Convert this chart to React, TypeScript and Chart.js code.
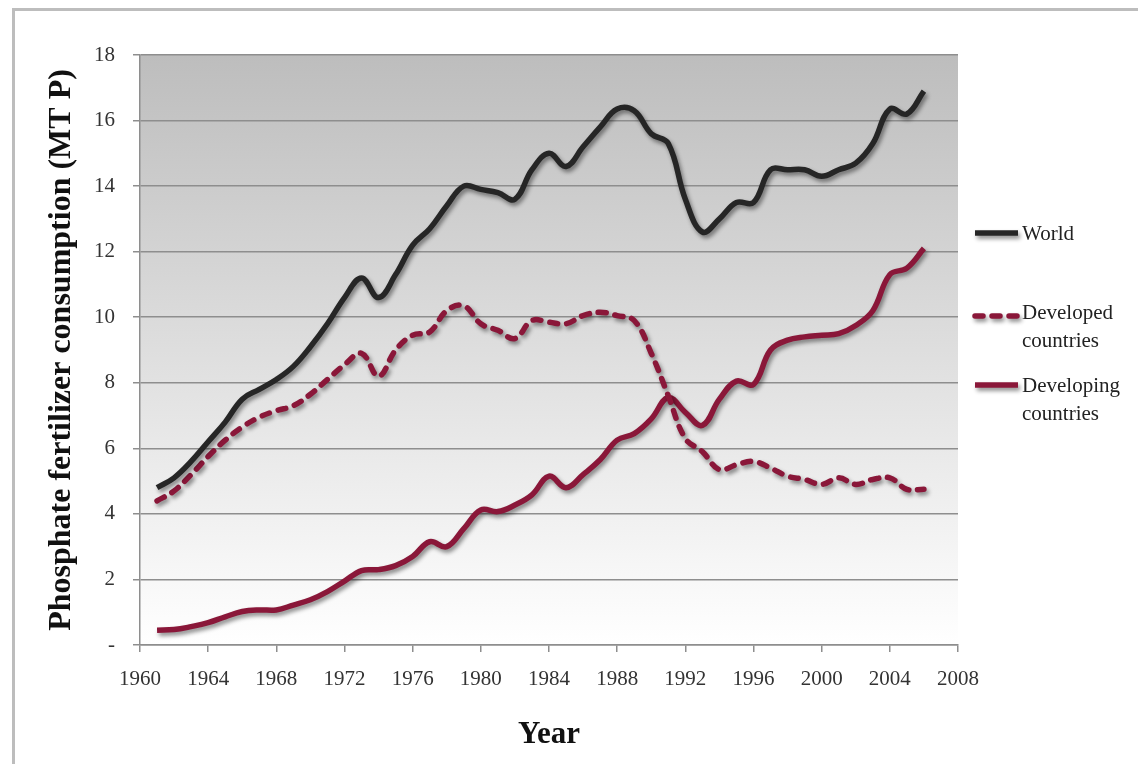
import React, { useEffect, useRef } from 'react';
import Chart from 'chart.js/auto';

const years = [
  1961, 1962, 1963, 1964, 1965, 1966, 1967, 1968, 1969, 1970,
  1971, 1972, 1973, 1974, 1975, 1976, 1977, 1978, 1979, 1980,
  1981, 1982, 1983, 1984, 1985, 1986, 1987, 1988, 1989, 1990,
  1991, 1992, 1993, 1994, 1995, 1996, 1997, 1998, 1999, 2000,
  2001, 2002, 2003, 2004, 2005, 2006,
];

const world = [
  4.8, 5.1, 5.6, 6.2, 6.8, 7.5, 7.8, 8.1, 8.5, 9.1,
  9.8, 10.6, 11.2, 10.6, 11.3, 12.2, 12.7, 13.4, 14.0, 13.9,
  13.8, 13.6, 14.5, 15.0, 14.6, 15.2, 15.8, 16.35, 16.3, 15.6,
  15.3, 13.6, 12.6, 13.0, 13.5, 13.5, 14.5, 14.5, 14.5, 14.3,
  14.5, 14.7, 15.3, 16.35, 16.2, 16.9,
];

const developed = [
  4.4, 4.7, 5.2, 5.75, 6.25, 6.65, 6.95, 7.15, 7.3, 7.65,
  8.1, 8.55, 8.9, 8.2, 9.0, 9.45, 9.55, 10.2, 10.35, 9.8,
  9.6, 9.35, 9.9, 9.85, 9.8, 10.05, 10.15, 10.05, 9.9, 8.9,
  7.6, 6.3, 5.9, 5.35, 5.5, 5.6, 5.4, 5.15, 5.05, 4.9,
  5.1, 4.9, 5.05, 5.1, 4.75, 4.75,
];

const developing = [
  0.45, 0.47, 0.56, 0.68, 0.86, 1.02, 1.07, 1.07, 1.22, 1.38,
  1.63, 1.95, 2.27, 2.3, 2.42, 2.7, 3.15, 3.0, 3.55, 4.12,
  4.07, 4.27, 4.58, 5.15, 4.8, 5.2, 5.65, 6.25, 6.45, 6.9,
  7.55, 7.1, 6.7, 7.5, 8.05, 7.95, 9.0, 9.3, 9.4, 9.45,
  9.5, 9.75, 10.2, 11.3, 11.5, 12.1,
];

const seriesNames = ['World', 'Developed countries', 'Developing countries'];
const legendLines = [['World'], ['Developed', 'countries'], ['Developing', 'countries']];

const xTicks = [1960, 1964, 1968, 1972, 1976, 1980, 1984, 1988, 1992, 1996, 2000, 2004, 2008];
const yTicks = [0, 2, 4, 6, 8, 10, 12, 14, 16, 18];
const yTickLabels = ['-', '2', '4', '6', '8', '10', '12', '14', '16', '18'];

const xTitle = 'Year';
const yTitle = 'Phosphate fertilizer consumption (MT P)';

const SERIF = '"Liberation Serif", "Times New Roman", serif';
const GRID = '#8e8e8e';

export default function App() {
  const ref = useRef<HTMLCanvasElement>(null);

  useEffect(() => {
    document.body.style.margin = '0';
    const canvas = ref.current;
    if (!canvas) return;

    const toPts = (vals: number[]) => years.map((yr, i) => ({ x: yr, y: vals[i] }));

    const bgPlugin = {
      id: 'bgPlugin',
      beforeDraw(chart: any) {
        const { ctx, chartArea: a } = chart;
        ctx.save();
        ctx.strokeStyle = '#bdbdbd';
        ctx.lineWidth = 3;
        ctx.beginPath();
        ctx.moveTo(13.5, chart.height);
        ctx.lineTo(13.5, 9.5);
        ctx.lineTo(chart.width, 9.5);
        ctx.stroke();
        const g = ctx.createLinearGradient(0, a.top, 0, a.bottom);
        g.addColorStop(0, '#bdbdbd');
        g.addColorStop(1, '#ffffff');
        ctx.fillStyle = g;
        ctx.fillRect(a.left, a.top, a.right - a.left, a.bottom - a.top);
        ctx.restore();
      },
    };

    const applyShadow = (ctx: CanvasRenderingContext2D) => {
      ctx.shadowColor = 'rgba(0,0,0,0.45)';
      ctx.shadowBlur = 4;
      ctx.shadowOffsetX = 2;
      ctx.shadowOffsetY = 3;
    };

    const shadowPlugin = {
      id: 'shadowPlugin',
      beforeDatasetDraw(chart: any) {
        chart.ctx.save();
        applyShadow(chart.ctx);
      },
      afterDatasetDraw(chart: any) {
        chart.ctx.restore();
      },
    };

    const legendPlugin = {
      id: 'sideLegend',
      afterDraw(chart: any) {
        const ctx = chart.ctx as CanvasRenderingContext2D;
        const x0 = 975;
        const x1 = 1018;
        const tx = 1022;
        const sampleY = [233, 316, 385];
        const textY = [234, 313, 386];
        chart.data.datasets.forEach((ds: any, i: number) => {
          ctx.save();
          applyShadow(ctx);
          ctx.strokeStyle = ds.borderColor;
          ctx.lineWidth = ds.borderWidth;
          ctx.setLineDash(ds.borderDash || []);
          ctx.lineCap = ds.borderCapStyle || 'butt';
          ctx.beginPath();
          ctx.moveTo(x0, sampleY[i]);
          ctx.lineTo(x1, sampleY[i]);
          ctx.stroke();
          ctx.restore();
          ctx.save();
          ctx.fillStyle = '#222';
          ctx.font = `21px ${SERIF}`;
          ctx.textBaseline = 'middle';
          ctx.textAlign = 'left';
          legendLines[i].forEach((t, j) => ctx.fillText(t, tx, textY[i] + j * 28));
          ctx.restore();
        });
      },
    };

    const chart = new Chart(canvas, {
      type: 'line',
      data: {
        datasets: [
          {
            label: seriesNames[0],
            data: toPts(world),
            borderColor: '#262626',
            borderWidth: 5.5,
            tension: 0.4,
            pointRadius: 0,
            fill: false,
          },
          {
            label: seriesNames[1],
            data: toPts(developed),
            borderColor: '#8a1739',
            borderWidth: 5.5,
            borderDash: [8, 9],
            borderCapStyle: 'round',
            tension: 0.4,
            pointRadius: 0,
            fill: false,
          },
          {
            label: seriesNames[2],
            data: toPts(developing),
            borderColor: '#8a1739',
            borderWidth: 5.5,
            tension: 0.4,
            pointRadius: 0,
            fill: false,
          },
        ],
      },
      options: {
        responsive: false,
        animation: false,
        layout: { padding: { left: 20, top: 55, right: 180, bottom: 0 } },
        plugins: {
          legend: { display: false },
          tooltip: { enabled: false },
        },
        scales: {
          x: {
            type: 'linear',
            min: 1960,
            max: 2008,
            afterBuildTicks: (s: any) => {
              s.ticks = xTicks.map((v) => ({ value: v }));
            },
            afterFit: (s: any) => {
              s.height = 119;
            },
            ticks: {
              autoSkip: false,
              maxRotation: 0,
              padding: 15,
              color: '#333',
              font: { family: SERIF, size: 21 },
              callback: (v: any) => String(v),
            },
            grid: {
              display: true,
              drawOnChartArea: false,
              drawTicks: true,
              tickLength: 7,
              tickColor: GRID,
              lineWidth: 1.5,
            },
            border: { display: true, color: GRID, width: 1.5 },
            title: {
              display: true,
              text: xTitle,
              color: '#111',
              font: { family: SERIF, size: 31, weight: 'bold' },
              padding: { top: 0, bottom: 10 },
            },
          },
          y: {
            type: 'linear',
            min: 0,
            max: 18,
            afterBuildTicks: (s: any) => {
              s.ticks = yTicks.map((v) => ({ value: v }));
            },
            afterFit: (s: any) => {
              s.width = 120;
            },
            ticks: {
              padding: 18,
              color: '#333',
              font: { family: SERIF, size: 21 },
              callback: (v: any) => {
                const idx = yTicks.indexOf(Number(v));
                return idx >= 0 ? yTickLabels[idx] : String(v);
              },
            },
            grid: {
              color: GRID,
              lineWidth: 1.5,
              drawTicks: true,
              tickLength: 7,
              tickColor: GRID,
            },
            border: { display: true, color: GRID, width: 1.5 },
            title: {
              display: true,
              text: yTitle,
              color: '#111',
              font: { family: SERIF, size: 32, weight: 'bold' },
              padding: { top: 23, bottom: 0 },
            },
          },
        },
      },
      plugins: [bgPlugin, shadowPlugin, legendPlugin],
    } as any);

    return () => chart.destroy();
  }, []);

  return <canvas ref={ref} width={1138} height={764} style={{ display: 'block' }} />;
}
